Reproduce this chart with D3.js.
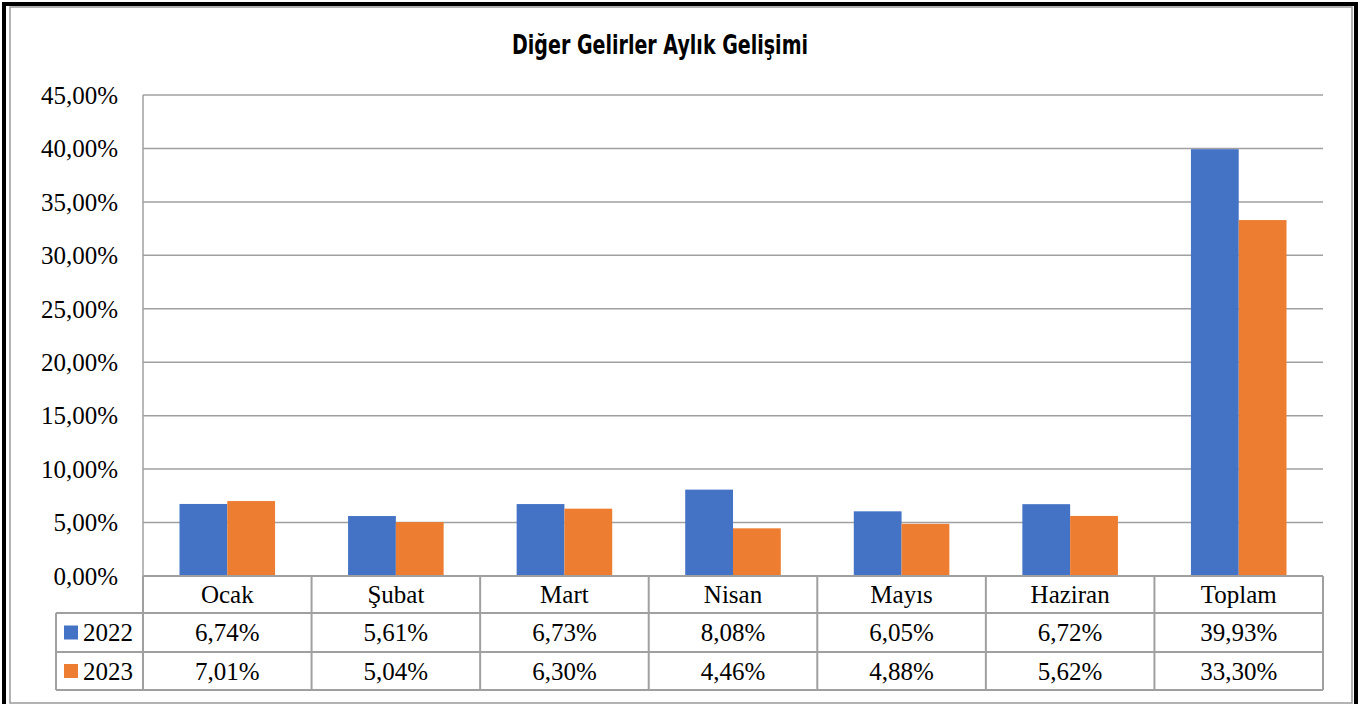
<!DOCTYPE html>
<html>
<head>
<meta charset="utf-8">
<script src="https://cdn.jsdelivr.net/npm/d3@7"></script>
<style>
  body { margin: 0; background: #fff; }
  svg { display: block; }
</style>
</head>
<body>
<div id="chart"></div>
<script>
//// DATA

const TITLE = "Diğer Gelirler Aylık Gelişimi";
const MONTHS = ["Ocak", "Şubat", "Mart", "Nisan", "Mayıs", "Haziran", "Toplam"];
const SERIES = ["2022", "2023"];
const VALUES_2022 = [6.74, 5.61, 6.73, 8.08, 6.05, 6.72, 39.93];
const VALUES_2023 = [7.01, 5.04, 6.30, 4.46, 4.88, 5.62, 33.30];
const Y_TICKS = [0, 5, 10, 15, 20, 25, 30, 35, 40, 45];

const COLORS = ["#4472C4", "#ED7D31"];
const GRID = "#A0A0A0";
const SERIF = "'Liberation Serif', 'Times New Roman', serif";

//////////////
const W = 1360, H = 704;
const PLOT = { left: 143, right: 1323, top: 95, bottom: 576 };
const ROW_H = [37, 39, 38];
const LEGEND_LEFT = 56;

const fmt = v => v.toFixed(2).replace(".", ",") + "%";

const svg = d3.select("#chart").append("svg")
  .attr("width", W)
  .attr("height", H);

// frame
svg.append("rect")
  .attr("x", 4).attr("y", 4)
  .attr("width", W - 8).attr("height", H + 10)
  .attr("fill", "none").attr("stroke", "#000").attr("stroke-width", 4);
svg.append("rect")
  .attr("x", 10).attr("y", 7)
  .attr("width", 1342).attr("height", 696)
  .attr("fill", "none").attr("stroke", "#9a9a9a").attr("stroke-width", 1.5);

// title (condensed heavy face in the original, so squeeze it)
svg.append("text")
  .attr("x", 660).attr("y", 54)
  .attr("text-anchor", "middle")
  .attr("font-family", "'DejaVu Sans', sans-serif")
  .attr("font-weight", "bold")
  .attr("font-size", 27)
  .attr("textLength", 296)
  .attr("lengthAdjust", "spacingAndGlyphs")
  .attr("fill", "#000")
  .text(TITLE);

const y = d3.scaleLinear()
  .domain([0, 45])
  .range([PLOT.bottom, PLOT.top]);

const x = d3.scaleBand()
  .domain(MONTHS)
  .range([PLOT.left, PLOT.right]);

const gap = 36.5;
const xs = d3.scaleBand()
  .domain(SERIES)
  .range([gap, x.bandwidth() - gap]);

// gridlines
svg.append("g").selectAll("line")
  .data(Y_TICKS)
  .join("line")
  .attr("x1", PLOT.left).attr("x2", PLOT.right)
  .attr("y1", d => y(d)).attr("y2", d => y(d))
  .attr("stroke", GRID).attr("stroke-width", 1.5);

// y labels
svg.append("g").selectAll("text")
  .data(Y_TICKS)
  .join("text")
  .attr("x", 118)
  .attr("y", d => y(d))
  .attr("dy", "0.35em")
  .attr("text-anchor", "end")
  .attr("font-family", SERIF)
  .attr("font-size", 25)
  .attr("fill", "#000")
  .text(d => d.toFixed(2).replace(".", ",") + "%");

// bars
const barData = [];
MONTHS.forEach((m, i) => {
  barData.push({ month: m, series: SERIES[0], value: VALUES_2022[i] });
  barData.push({ month: m, series: SERIES[1], value: VALUES_2023[i] });
});

svg.append("g").selectAll("rect")
  .data(barData)
  .join("rect")
  .attr("x", d => x(d.month) + xs(d.series))
  .attr("width", xs.bandwidth())
  .attr("y", d => y(d.value))
  .attr("height", d => y(0) - y(d.value))
  .attr("fill", d => COLORS[SERIES.indexOf(d.series)]);

// data table
const rowTop = [PLOT.bottom, PLOT.bottom + ROW_H[0], PLOT.bottom + ROW_H[0] + ROW_H[1]];
const tableBottom = rowTop[2] + ROW_H[2];
const table = svg.append("g");

// horizontal lines
table.append("line")
  .attr("x1", PLOT.left).attr("x2", PLOT.right)
  .attr("y1", PLOT.bottom).attr("y2", PLOT.bottom)
  .attr("stroke", GRID).attr("stroke-width", 2);
[rowTop[1], rowTop[2], tableBottom].forEach(yy => {
  table.append("line")
    .attr("x1", LEGEND_LEFT).attr("x2", PLOT.right)
    .attr("y1", yy).attr("y2", yy)
    .attr("stroke", GRID).attr("stroke-width", 2);
});

// vertical lines
const vx = MONTHS.map(m => x(m)).concat([PLOT.right]);
table.selectAll(".vline")
  .data(vx)
  .join("line")
  .attr("class", "vline")
  .attr("x1", d => d).attr("x2", d => d)
  .attr("y1", PLOT.bottom).attr("y2", tableBottom)
  .attr("stroke", GRID).attr("stroke-width", 2);
table.append("line")
  .attr("x1", PLOT.left).attr("x2", PLOT.left)
  .attr("y1", PLOT.top).attr("y2", PLOT.bottom)
  .attr("stroke", GRID).attr("stroke-width", 1.5);
table.append("line")
  .attr("x1", LEGEND_LEFT).attr("x2", LEGEND_LEFT)
  .attr("y1", rowTop[1]).attr("y2", tableBottom)
  .attr("stroke", GRID).attr("stroke-width", 2);

// category labels
table.selectAll(".cat")
  .data(MONTHS)
  .join("text")
  .attr("class", "cat")
  .attr("x", d => x(d) + x.bandwidth() / 2)
  .attr("y", rowTop[0] + ROW_H[0] / 2)
  .attr("dy", "0.35em")
  .attr("text-anchor", "middle")
  .attr("font-family", SERIF)
  .attr("font-size", 25)
  .text(d => d);

// value rows + legend
[VALUES_2022, VALUES_2023].forEach((vals, k) => {
  const cy = rowTop[k + 1] + ROW_H[k + 1] / 2;
  table.append("rect")
    .attr("x", 64).attr("y", cy - 7)
    .attr("width", 14).attr("height", 14)
    .attr("fill", COLORS[k]);
  table.append("text")
    .attr("x", 83).attr("y", cy)
    .attr("dy", "0.35em")
    .attr("font-family", SERIF)
    .attr("font-size", 25)
    .text(SERIES[k]);
  table.selectAll(".val" + k)
    .data(vals)
    .join("text")
    .attr("class", "val" + k)
    .attr("x", (d, i) => x(MONTHS[i]) + x.bandwidth() / 2)
    .attr("y", cy)
    .attr("dy", "0.35em")
    .attr("text-anchor", "middle")
    .attr("font-family", SERIF)
    .attr("font-size", 25)
    .text(d => fmt(d));
});
</script>
</body>
</html>
